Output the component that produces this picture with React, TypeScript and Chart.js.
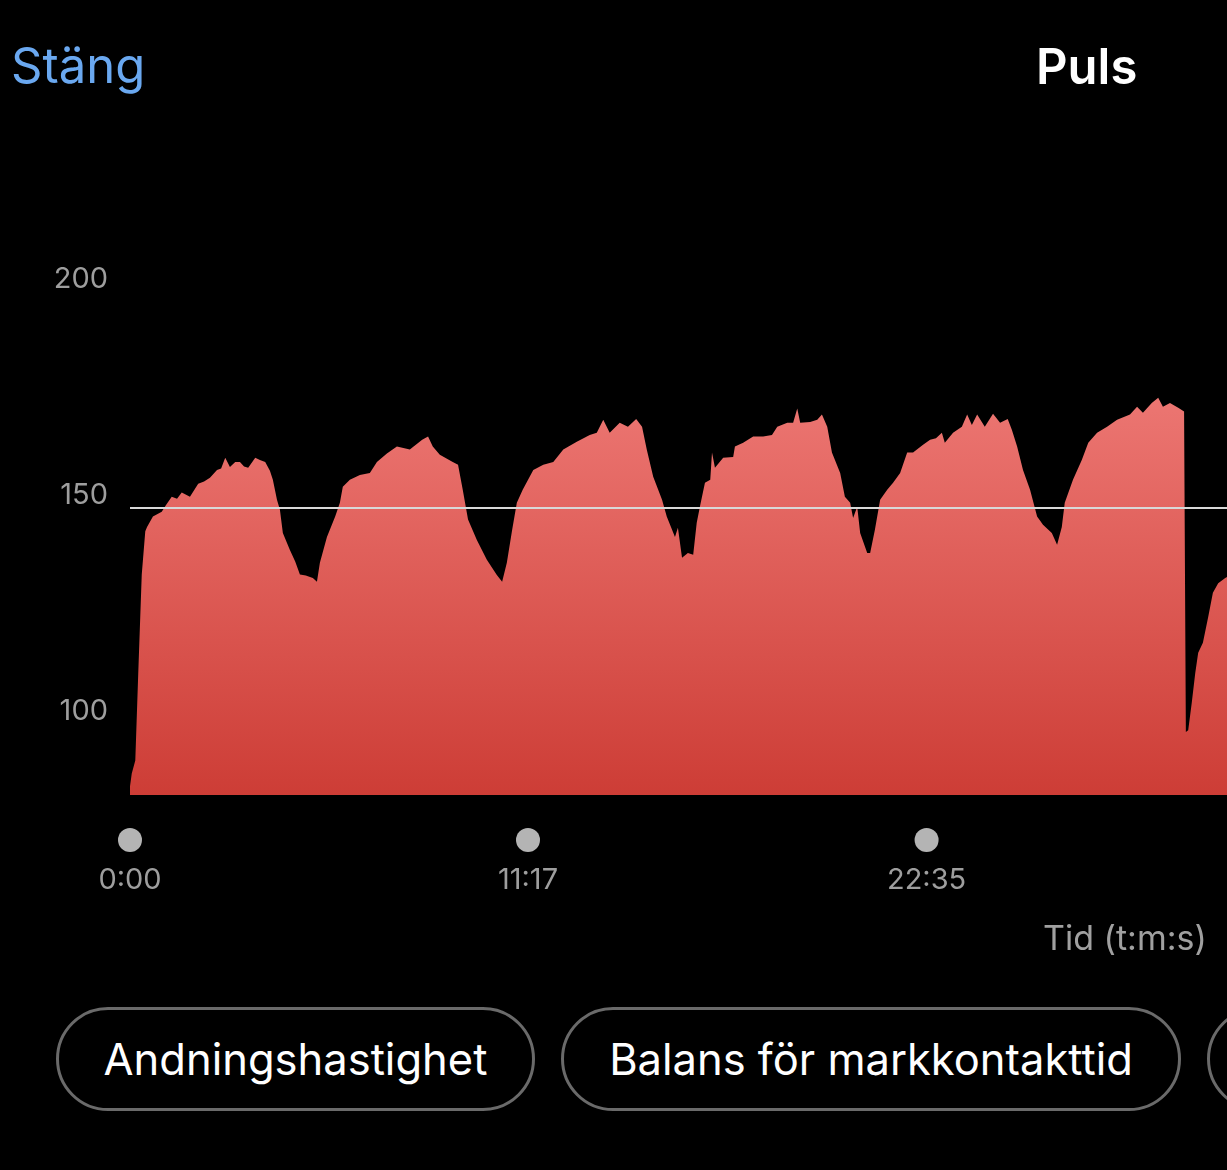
import React, { useEffect, useRef } from 'react';
import { Chart, registerables } from 'chart.js';

Chart.register(...registerables);

// ---- data ----
const timeSec: number[] = [
  0, 3, 9, 14, 20, 26, 29, 39, 54, 61, 71, 80, 88, 102, 116, 126, 136, 148, 155, 162,
  170, 179, 187, 194, 201, 208, 213, 221, 230, 238, 243, 250, 255, 260, 272, 281, 289, 299, 311, 318,
  323, 335, 349, 357, 362, 374, 391, 408, 420, 437, 454, 476, 497, 507, 515, 527, 549, 558, 566, 575,
  590, 607, 624, 633, 641, 650, 658, 668, 686, 703, 720, 737, 760, 782, 794, 805, 816, 833, 847, 861,
  871, 879, 890, 905, 913, 927, 932, 939, 949, 958, 964, 970, 978, 987, 990, 995, 1009, 1026, 1029, 1043,
  1060, 1077, 1092, 1101, 1118, 1128, 1135, 1140, 1157, 1169, 1177, 1186, 1194, 1208, 1216, 1225, 1230, 1237, 1242, 1254,
  1259, 1267, 1276, 1288, 1298, 1310, 1322, 1332, 1349, 1361, 1371, 1381, 1386, 1400, 1415, 1424, 1432, 1441, 1454, 1468,
  1480, 1493, 1500, 1509, 1519, 1531, 1543, 1553, 1568, 1577, 1585, 1590, 1604, 1619, 1630, 1645, 1662, 1679, 1701, 1713,
  1723, 1738, 1749, 1757, 1769, 1783, 1793, 1796, 1800, 1806, 1812, 1817, 1825, 1834, 1842, 1851, 1863, 1875,
];
const heartRate: number[] = [
  82, 85, 88, 108, 131, 141, 142, 144.4, 145.5, 147, 149, 148.5, 150, 149, 152, 152.5, 153.4, 155.2, 155.5, 158,
  155.9, 157, 157, 156, 155.7, 157, 158, 157.5, 157, 155, 152.9, 148.3, 146, 140.6, 136.7, 134, 131, 130.8, 130.2, 129.3,
  133.7, 139.7, 144.4, 147.6, 151.3, 152.9, 154, 154.5, 157, 159, 160.6, 159.9, 162.2, 162.9, 160.6, 158.7, 157, 156.4, 150.6, 143.7,
  139, 134.4, 130.9, 129.3, 133.7, 141.3, 147.6, 150.6, 155.2, 156.4, 157, 159.9, 161.7, 163.3, 163.8, 166.8, 163.8, 166.1, 165.2, 167,
  165.2, 159.9, 153.6, 148.3, 144.4, 139.7, 141.8, 134.9, 136, 135.6, 143, 147.1, 152.2, 152.9, 159.2, 155.7, 158, 158.2, 160.6, 161.5,
  162.9, 162.9, 163.3, 165.2, 166.1, 166.1, 169.4, 166.1, 166.3, 166.8, 168, 165.2, 159.2, 154.5, 149, 147.6, 144.1, 146.7, 140.6, 136,
  136, 141.3, 148.3, 150.6, 152.2, 154.5, 159.2, 159.2, 161, 162.2, 162.5, 163.8, 161.5, 163.8, 165.2, 168, 165.6, 168, 165.2, 168.2,
  166.1, 167, 164.5, 160.6, 155.2, 150.6, 144.4, 142.5, 140.6, 137.9, 142, 147.6, 152.9, 157.5, 161.5, 163.8, 165.2, 166.8, 168, 169.8,
  168.4, 170.7, 171.9, 169.8, 170.7, 169.6, 168.7, 94.6, 95, 101.3, 108.2, 112.9, 115.2, 121.2, 126.8, 129, 130.2, 131,
];
const averageHr = 146.4;
const xTickValues: number[] = [0, 677, 1355];
const yTickValues: number[] = [100, 150, 200];
const xMaxSec = 1866;
const yMin = 80;
const yMax = 210;
const pillLabels: string[] = ['Andningshastighet', 'Balans för markkontakttid', ''];

const FONT = 'Inter, "Noto Sans", "DejaVu Sans", sans-serif';

function fmtTime(s: number): string {
  const m = Math.floor(s / 60);
  const ss = Math.round(s % 60);
  return `${m}:${String(ss).padStart(2, '0')}`;
}

const dotPlugin = {
  id: 'tickDots',
  afterDraw(chart: any) {
    const x = chart.scales.x;
    const ctx = chart.ctx;
    ctx.save();
    ctx.fillStyle = '#b4b4b4';
    for (const t of x.ticks) {
      const px = x.getPixelForValue(t.value);
      ctx.beginPath();
      ctx.arc(px, chart.chartArea.bottom + 45, 12, 0, Math.PI * 2);
      ctx.fill();
    }
    ctx.restore();
  },
};

export default function App() {
  const ref = useRef<HTMLCanvasElement | null>(null);

  useEffect(() => {
    document.body.style.margin = '0';
    document.body.style.background = '#000';
    const canvas = ref.current;
    if (!canvas) return;
    const chart = new Chart(canvas, {
      type: 'line',
      data: {
        datasets: [
          {
            label: 'Puls',
            data: timeSec.map((t, i) => ({ x: t, y: heartRate[i] })),
            borderWidth: 0,
            pointRadius: 0,
            tension: 0,
            fill: 'start',
            borderColor: 'rgba(0,0,0,0)',
            backgroundColor: (c: any) => {
              const ch = c.chart;
              const area = ch.chartArea;
              if (!area) return '#e05a55';
              const g = ch.ctx.createLinearGradient(0, ch.scales.y.getPixelForValue(172), 0, area.bottom);
              g.addColorStop(0, '#ec7672');
              g.addColorStop(1, '#cd3d36');
              return g;
            },
            order: 2,
          },
          {
            label: 'Medel',
            data: [
              { x: 0, y: averageHr },
              { x: xMaxSec, y: averageHr },
            ],
            borderColor: '#d8d8d8',
            borderWidth: 2,
            pointRadius: 0,
            fill: false,
            order: 1,
          },
        ],
      },
      options: {
        responsive: false,
        maintainAspectRatio: false,
        animation: false,
        layout: { padding: { top: 233, left: 0, right: 0, bottom: 0 } },
        plugins: { legend: { display: false }, tooltip: { enabled: false } },
        scales: {
          x: {
            type: 'linear',
            min: 0,
            max: xMaxSec,
            grid: { display: false, drawTicks: false },
            border: { display: false },
            afterBuildTicks: (s: any) => {
              s.ticks = xTickValues.map((v) => ({ value: v }));
            },
            afterFit: (s: any) => {
              s.height = 125;
            },
            ticks: {
              color: '#9e9e9e',
              font: { family: FONT, size: 29 },
              padding: 68,
              maxRotation: 0,
              autoSkip: false,
              callback: (v: any) => fmtTime(Number(v)),
            },
          },
          y: {
            min: yMin,
            max: yMax,
            grid: { display: false, drawTicks: false },
            border: { display: false },
            afterBuildTicks: (s: any) => {
              s.ticks = yTickValues.map((v) => ({ value: v }));
            },
            afterFit: (s: any) => {
              s.width = 130;
            },
            ticks: {
              color: '#9e9e9e',
              font: { family: FONT, size: 29 },
              padding: 22,
              labelOffset: 3,
            },
          },
        },
      },
      plugins: [dotPlugin],
    } as any);
    return () => chart.destroy();
  }, []);

  const pillStyle = (left: number, width: number): React.CSSProperties => ({
    position: 'absolute',
    left,
    top: 1007,
    width,
    height: 104,
    boxSizing: 'border-box',
    border: '3px solid #6a6a6a',
    borderRadius: 52,
    color: '#fff',
    fontFamily: FONT,
    fontSize: 43.5,
    display: 'flex',
    alignItems: 'center',
    justifyContent: 'center',
    whiteSpace: 'nowrap',
  });

  return (
    <div
      style={{
        position: 'relative',
        width: 1227,
        height: 1170,
        background: '#000',
        overflow: 'hidden',
        fontFamily: FONT,
      }}
    >
      <div style={{ position: 'absolute', left: 11, top: 42, fontSize: 49, lineHeight: '48px', color: '#6aa8f0' }}>
        Stäng
      </div>
      <div
        style={{ position: 'absolute', left: 1036, top: 42, fontSize: 49, lineHeight: '49px', color: '#fff', fontWeight: 600 }}
      >
        Puls
      </div>
      <canvas ref={ref} width={1227} height={920} style={{ position: 'absolute', left: 0, top: 0 }} />
      <div style={{ position: 'absolute', left: 1043, top: 921, fontSize: 34, lineHeight: '34px', color: '#a0a0a0' }}>
        Tid (t:m:s)
      </div>
      <div style={pillStyle(56, 479)}>{pillLabels[0]}</div>
      <div style={pillStyle(561, 620)}>{pillLabels[1]}</div>
      <div style={pillStyle(1207, 300)}>{pillLabels[2]}</div>
    </div>
  );
}
